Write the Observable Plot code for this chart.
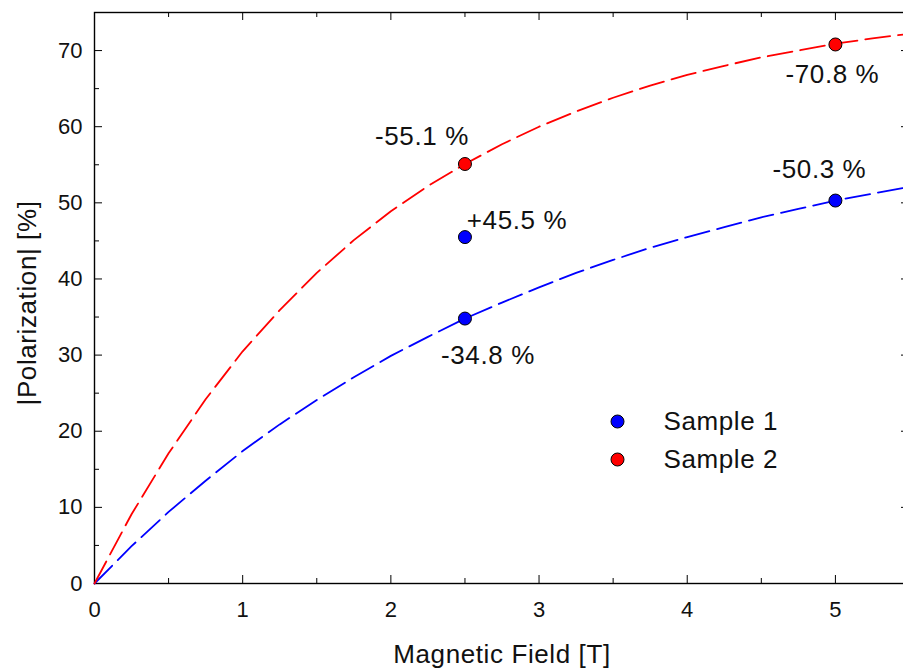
<!DOCTYPE html>
<html><head><meta charset="utf-8">
<script src="https://cdn.jsdelivr.net/npm/d3@7"></script>
<script src="https://cdn.jsdelivr.net/npm/@observablehq/plot@0.6"></script>
<style>
body{margin:0;background:#fff;overflow:hidden}
#chart svg{display:block}
.big text{letter-spacing:0.6px}
</style></head><body><div id="chart"></div>
<script>
// ---- data ----
const curveField = [0,0.25,0.5,0.75,1,1.25,1.5,1.75,2,2.25,2.5,2.75,3,3.25,3.5,3.75,4,4.25,4.5,4.75,5,5.25,5.5];
const sample1Curve = [0,4.9,9.4,13.5,17.4,20.9,24.1,27.1,29.9,32.4,34.8,36.9,38.9,40.8,42.5,44.1,45.5,46.8,48.1,49.2,50.3,51.2,52.1];
const sample2Curve = [0,9.1,17.1,24.2,30.5,35.9,40.8,45.1,48.9,52.2,55.1,57.7,60.0,62.0,63.8,65.4,66.8,68.0,69.1,70.0,70.9,71.6,72.2];

const pointField  = [2.5, 5, 2.5, 2.5, 5];
const pointValue  = [34.8, 50.3, 45.5, 55.1, 70.8];
const pointSeries = ["Sample 1","Sample 1","Sample 1","Sample 2","Sample 2"];
const pointLabels = ["-34.8 %","-50.3 %","+45.5 %","-55.1 %","-70.8 %"];

const seriesNames = ["Sample 1","Sample 2"];
const xMajorTicks = [0,1,2,3,4,5];
const xMinorTicks = [0.5,1.5,2.5,3.5,4.5];
const yMajorTicks = [0,10,20,30,40,50,60,70];
const yMinorTicks = [5,15,25,35,45,55,65];
const xTitle = "Magnetic Field [T]";
const yTitle = "|Polarization| [%]";

// ---- layout / styles ----
const colors = {"Sample 1":"#0000ff","Sample 2":"#ff0000"};
const labelOffsets = [[23,37],[-16,-31],[52,-16],[-43,-27],[-3,30]];
const W=903,H=670,mL=94,mR=-6,mT=12,mB=87;
const plotW=W-mL-mR, plotH=H-mT-mB;
const FONT = "'Liberation Sans', Arial, Helvetica, sans-serif";
const BIG = 26;

const curves = [];
curveField.forEach((x,i)=>{ curves.push({x, y: sample1Curve[i], s: "Sample 1"}); });
curveField.forEach((x,i)=>{ curves.push({x, y: sample2Curve[i], s: "Sample 2"}); });
const points = pointField.map((x,i)=>({x, y: pointValue[i], s: pointSeries[i], label: pointLabels[i]}));

const marks = [
  Plot.frame({stroke:"black", strokeWidth:1.4}),
  // inward ticks
  Plot.tickX(xMajorTicks,{x:d=>d, insetTop: plotH-8, stroke:"black"}),
  Plot.tickX(xMinorTicks,{x:d=>d, insetTop: plotH-5, stroke:"black"}),
  Plot.tickX(xMajorTicks,{x:d=>d, insetBottom: plotH-8, stroke:"black"}),
  Plot.tickX(xMinorTicks,{x:d=>d, insetBottom: plotH-5, stroke:"black"}),
  Plot.tickY(yMajorTicks,{y:d=>d, insetRight: plotW-8, stroke:"black"}),
  Plot.tickY(yMinorTicks,{y:d=>d, insetRight: plotW-5, stroke:"black"}),
  Plot.tickY(yMajorTicks,{y:d=>d, insetLeft: plotW-8, stroke:"black"}),
  Plot.tickY(yMinorTicks,{y:d=>d, insetLeft: plotW-5, stroke:"black"}),
  Plot.axisX(xMajorTicks,{tickSize:0, tickPadding:18, fontSize:22, label:null, fill:"#111", tickFormat:d3.format("d")}),
  Plot.axisY(yMajorTicks,{tickSize:0, tickPadding:12, fontSize:22, label:null, fill:"#111", tickFormat:d3.format("d")}),
  // curves
  Plot.line(curves,{x:"x", y:"y", z:"s", stroke:d=>colors[d.s], strokeWidth:1.8, strokeDasharray:"25,8", curve:"linear"}),
  // points
  Plot.dot(points,{x:"x", y:"y", r:6.5, fill:d=>colors[d.s], stroke:"black", strokeWidth:1}),
  // annotations
  ...points.map((p,i)=>Plot.text([p],{x:"x", y:"y", text:"label", dx:labelOffsets[i][0], dy:labelOffsets[i][1], fontSize:BIG, lineAnchor:"middle", fill:"#111", className:"big"})),
  // legend
  ...seriesNames.map((s,i)=>Plot.dot([s],{frameAnchor:"top-left", dx:523, dy:409+i*38, r:6.5, fill:colors[s], stroke:"black", strokeWidth:1})),
  ...seriesNames.map((s,i)=>Plot.text([s],{frameAnchor:"top-left", dx:569, dy:409+i*38, text:d=>d, textAnchor:"start", lineAnchor:"middle", fontSize:BIG, fill:"#111", className:"big"})),
  // titles
  Plot.text([xTitle],{frameAnchor:"bottom", dy:61, text:d=>d, textAnchor:"middle", lineAnchor:"top", fontSize:BIG, fill:"#111", className:"big"}),
  Plot.text([yTitle],{frameAnchor:"left", dx:-67, dy:5, text:d=>d, rotate:-90, textAnchor:"middle", lineAnchor:"middle", fontSize:BIG, fill:"#111", className:"big"})
];

const chart = Plot.plot({
  width: W, height: H,
  marginLeft: mL, marginRight: mR, marginTop: mT, marginBottom: mB,
  style: {fontFamily: FONT, fontSize: "20px", background: "#fff", color: "black"},
  x: {domain:[0,5.5], axis:null},
  y: {domain:[0,75], axis:null},
  marks
});
document.getElementById("chart").appendChild(chart);
</script>
</body></html>
